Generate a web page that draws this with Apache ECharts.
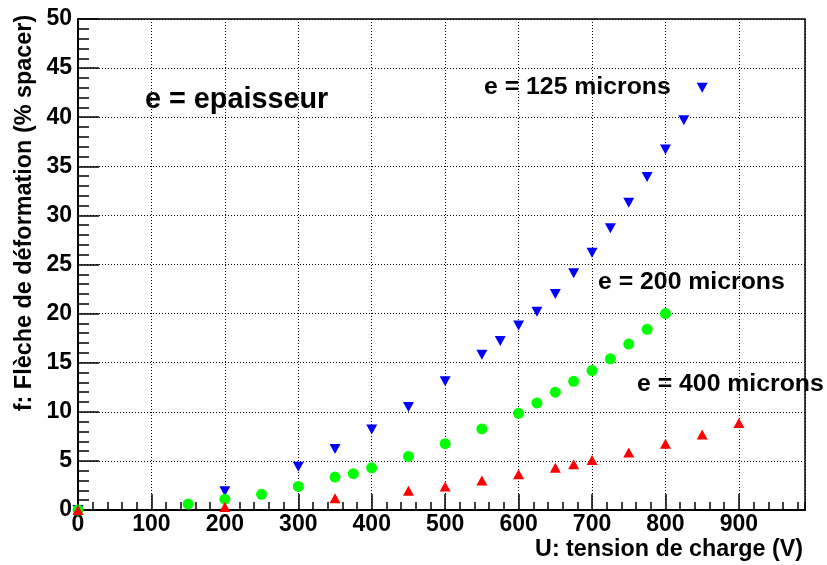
<!DOCTYPE html>
<html>
<head>
<meta charset="utf-8">
<script src="https://cdn.jsdelivr.net/npm/echarts@6/dist/echarts.min.js"></script>
<style>
html,body{margin:0;padding:0;background:#fff;}
#c{width:827px;height:565px;}
</style>
</head>
<body>
<div id="c"></div>
<script>
// ---- data ----
const uBlue = [0, 200, 300, 350, 400, 450, 500, 550, 575, 600, 625, 650, 675, 700, 725, 750, 775, 800, 825, 850];
const fBlue = [0, 1.9, 4.4, 6.2, 8.2, 10.5, 13.1, 15.8, 17.2, 18.8, 20.2, 22.0, 24.1, 26.2, 28.7, 31.3, 33.9, 36.7, 39.7, 43.0];

const uGreen = [0, 150, 200, 250, 300, 350, 375, 400, 450, 500, 550, 600, 625, 650, 675, 700, 725, 750, 775, 800];
const fGreen = [0, 0.6, 1.1, 1.6, 2.4, 3.35, 3.7, 4.3, 5.45, 6.75, 8.25, 9.85, 10.9, 12.0, 13.1, 14.2, 15.4, 16.9, 18.4, 20.0];

const uRed = [0, 200, 350, 450, 500, 550, 600, 650, 675, 700, 750, 800, 850, 900];
const fRed = [0, 0.3, 1.2, 1.95, 2.4, 3.0, 3.65, 4.3, 4.65, 5.1, 5.85, 6.75, 7.7, 8.85];

const xTitle = 'U: tension de charge (V)';
const yTitle = 'f: Flèche de déformation (% spacer)';
const labelMain = 'e = epaisseur';
const label125 = 'e = 125 microns';
const label200 = 'e = 200 microns';
const label400 = 'e = 400 microns';

const xMin = 0, xMax = 990, xMajor = 100, xMinor = 20;
const yMin = 0, yMax = 50, yMajor = 5;

function pairs(u, f) { return u.map((x, i) => [x, f[i]]); }

const FONT = 'Liberation Sans, Arial, Helvetica, sans-serif';
const chart = echarts.init(document.getElementById('c'), null, {renderer: 'canvas'});

const option = {
  animation: false,
  backgroundColor: '#fff',
  grid: {
    left: 78, top: 19, right: 22, bottom: 55,
    show: true, borderColor: '#000', borderWidth: 1.5, backgroundColor: 'transparent'
  },
  xAxis: [{
    type: 'value', min: xMin, max: xMax, interval: xMajor,
    axisLine: {show: true, onZero: false, lineStyle: {color: '#000', width: 2}},
    axisTick: {show: true, inside: true, length: 16, lineStyle: {color: '#000', width: 1.5}},
    minorTick: {show: false},
    axisLabel: {
      show: true, margin: 3, color: '#000', fontSize: 23, fontWeight: 'bold', fontFamily: FONT,
      showMaxLabel: false,
      formatter: v => (v % xMajor === 0 ? String(v) : '')
    },
    splitLine: {show: true, lineStyle: {color: '#000', width: 1, type: [1, 2]}}
  }, {
    type: 'value', min: xMin, max: xMax, interval: xMinor, position: 'bottom',
    axisLine: {show: false},
    axisTick: {show: true, inside: true, length: 8, lineStyle: {color: '#000', width: 1.5}},
    axisLabel: {show: false},
    splitLine: {show: false}
  }],
  yAxis: [{
    type: 'value', min: yMin, max: yMax, interval: yMajor,
    axisLine: {show: true, onZero: false, lineStyle: {color: '#000', width: 2}},
    axisTick: {show: true, inside: true, length: 21, lineStyle: {color: '#000', width: 1.5}},
    minorTick: {show: true, splitNumber: 5, length: 11, lineStyle: {color: '#000', width: 1.5}},
    axisLabel: {show: true, margin: 6, color: '#000', fontSize: 23, fontWeight: 'bold', fontFamily: FONT},
    splitLine: {show: true, lineStyle: {color: '#000', width: 1, type: [1, 2]}}
  }],
  series: [{
    type: 'scatter', xAxisIndex: 0, yAxisIndex: 0,
    data: pairs(uBlue, fBlue),
    symbol: 'triangle', symbolRotate: 180, symbolSize: [11, 10],
    itemStyle: {color: '#0000ff', opacity: 1},
    clip: false, z: 3
  }, {
    type: 'scatter', xAxisIndex: 0, yAxisIndex: 0,
    data: pairs(uGreen, fGreen),
    symbol: 'circle', symbolSize: 11,
    itemStyle: {color: '#00ff00', opacity: 1},
    clip: false, z: 4
  }, {
    type: 'scatter', xAxisIndex: 0, yAxisIndex: 0,
    data: pairs(uRed, fRed),
    symbol: 'triangle', symbolSize: [11, 10],
    itemStyle: {color: '#ff0000', opacity: 1},
    clip: false, z: 5
  }],
  graphic: [
    {type: 'text', x: 145, y: 100, z: 10,
      style: {text: labelMain, font: 'bold 28.8px ' + FONT, fill: '#000', align: 'left', verticalAlign: 'middle'}},
    {type: 'text', x: 484, y: 87, z: 10,
      style: {text: label125, font: 'bold 24.8px ' + FONT, fill: '#000', align: 'left', verticalAlign: 'middle'}},
    {type: 'text', x: 598, y: 282, z: 10,
      style: {text: label200, font: 'bold 24.8px ' + FONT, fill: '#000', align: 'left', verticalAlign: 'middle'}},
    {type: 'text', x: 637, y: 384, z: 10,
      style: {text: label400, font: 'bold 24.8px ' + FONT, fill: '#000', align: 'left', verticalAlign: 'middle'}},
    {type: 'text', x: 803, y: 550, z: 10,
      style: {text: xTitle, font: 'bold 23.3px ' + FONT, fill: '#000', align: 'right', verticalAlign: 'middle'}},
    {type: 'text', x: 25, y: 213, rotation: Math.PI / 2, z: 10,
      style: {text: yTitle, font: 'bold 23.4px ' + FONT, fill: '#000', align: 'center', verticalAlign: 'middle'}}
  ]
};
chart.setOption(option);
</script>
</body>
</html>
